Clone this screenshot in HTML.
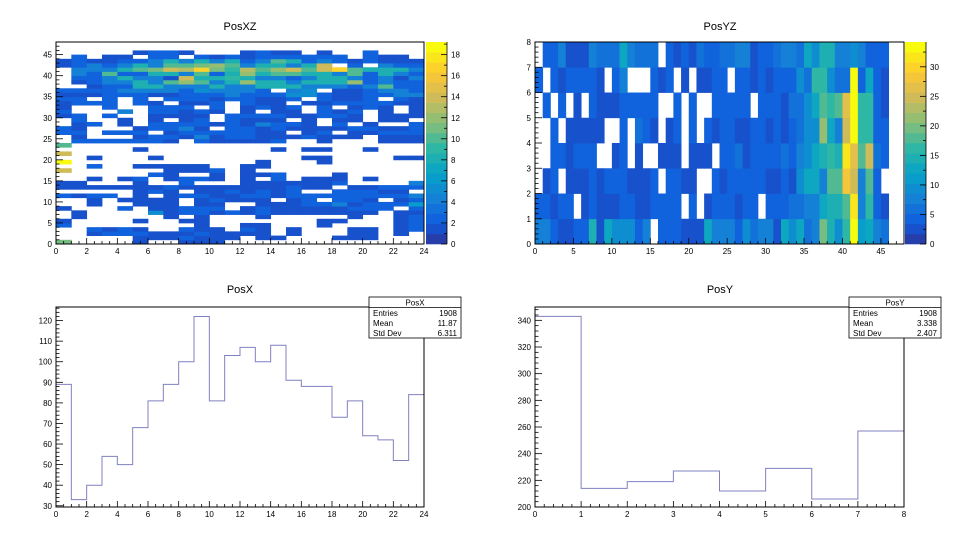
<!DOCTYPE html>
<html><head><meta charset="utf-8">
<style>
html,body{margin:0;padding:0;background:#fff;}
svg{display:block;font-family:"Liberation Sans",Arial,sans-serif;}
</style></head>
<body>
<svg id="cv" width="960" height="540" viewBox="0 0 960 540" xmlns="http://www.w3.org/2000/svg"></svg>
<script>
// ---------- data ----------
const posxCounts=[89,33,40,54,50,68,81,89,100,122,81,103,107,100,108,91,88,88,73,81,64,62,52,84];
const posyCounts=[343,214,219,227,212,229,206,257];
const posxStats=["1908","11.87","6.311"];
const posyStats=["1908","3.338","2.407"];
const xzCounts=[
[11,0,0,0,0,1,0,0,1,1,1,0,0,0,0,0,0,0,0,0,0,0,0,0],
[0,0,0,0,0,1,1,1,2,1,1,1,0,1,1,0,0,0,1,1,1,0,0,0],
[0,0,1,2,2,2,1,1,1,2,1,1,1,1,0,1,0,0,0,1,1,0,1,0],
[0,0,2,1,2,1,0,0,2,1,1,0,2,1,0,1,0,0,0,1,1,0,1,2],
[2,0,0,0,0,0,0,0,0,1,0,0,1,1,0,0,0,1,0,0,0,0,1,2],
[1,0,0,0,0,1,0,0,1,1,0,0,0,0,0,0,0,1,1,0,0,0,1,2],
[0,1,0,0,0,0,0,1,0,1,0,0,0,1,0,0,0,0,0,1,0,0,1,2],
[0,1,0,0,0,0,5,1,2,2,1,2,1,2,1,1,1,1,1,1,1,0,1,1],
[1,0,0,0,2,0,1,1,2,2,2,0,1,2,1,1,1,1,1,2,2,2,0,2],
[0,0,1,0,0,1,1,1,0,1,1,0,0,1,1,1,2,2,4,1,2,2,2,6],
[0,0,1,0,1,1,1,1,0,1,2,1,1,1,0,1,2,0,2,2,1,0,1,2],
[2,1,2,2,0,1,0,1,2,2,1,1,2,2,1,2,2,2,2,2,2,2,2,4],
[0,0,0,0,0,1,2,1,0,1,1,2,1,2,1,2,0,0,2,2,2,1,1,0],
[1,1,1,1,1,1,1,2,1,1,1,1,1,1,1,2,1,1,0,1,1,2,2,2],
[1,1,0,0,0,1,0,0,2,0,0,0,1,1,1,1,1,1,2,0,0,0,0,4],
[0,0,1,0,1,2,0,1,2,2,1,0,1,0,2,0,1,1,1,0,1,0,0,0],
[0,0,0,0,0,0,2,1,0,0,1,0,1,1,2,0,0,0,1,0,0,0,0,0],
[14,0,0,0,0,0,0,1,1,1,2,0,1,0,0,0,0,0,0,0,0,0,0,0],
[0,0,2,0,0,1,1,1,1,1,0,0,1,1,0,0,0,0,0,0,0,0,0,0],
[19,0,0,0,0,0,0,0,0,0,0,0,0,1,0,0,0,1,0,0,0,0,0,0],
[0,0,1,0,0,0,1,0,0,0,0,0,0,0,0,0,1,1,0,0,0,0,1,1],
[14,0,0,0,0,0,0,0,0,0,0,0,0,0,0,0,0,0,0,0,0,0,0,0],
[0,0,0,0,0,1,0,0,0,0,0,0,0,0,1,0,1,1,0,0,1,0,0,0],
[10,0,0,0,0,0,0,0,0,0,0,0,0,0,0,0,0,0,0,0,0,0,0,0],
[0,2,2,2,2,2,2,1,0,2,1,1,1,1,2,0,0,1,0,0,0,1,1,1],
[0,1,0,0,0,1,2,2,1,4,1,2,2,1,1,1,2,1,1,1,0,1,1,1],
[2,2,0,2,2,2,0,1,2,2,2,2,2,1,1,0,1,2,0,1,1,2,2,2],
[2,1,0,0,0,1,2,2,4,1,0,2,2,1,2,1,1,1,1,2,2,1,1,2],
[0,1,2,0,1,0,2,2,2,2,1,2,1,4,2,2,1,0,2,0,1,0,0,2],
[0,2,0,0,1,0,1,0,1,2,0,2,1,1,1,0,1,0,1,1,0,1,1,0],
[1,2,0,2,0,0,1,1,1,1,0,2,2,2,2,1,1,2,2,1,0,1,1,1],
[2,0,0,0,4,0,2,2,1,2,1,0,1,0,1,1,0,2,1,2,0,1,0,1],
[1,0,0,2,0,0,2,2,2,0,2,0,1,2,1,2,0,2,0,1,2,1,0,1],
[1,2,2,2,0,2,1,0,1,1,2,0,2,1,1,0,1,1,2,2,2,2,1,1],
[2,2,0,2,0,2,0,2,2,2,1,2,2,1,1,2,0,2,1,1,2,0,2,1],
[1,1,1,2,2,2,1,1,2,2,2,4,2,2,2,5,5,2,1,1,2,2,4,4],
[2,2,2,2,4,4,4,4,2,5,4,4,4,2,0,4,5,0,1,1,2,4,4,2],
[0,0,1,2,2,8,8,4,4,4,8,4,4,8,8,8,4,4,4,2,4,10,2,2],
[0,1,2,4,4,8,4,10,12,10,4,8,12,8,8,4,8,8,8,12,2,4,2,2],
[0,2,2,4,8,4,4,1,14,8,8,9,8,4,4,2,4,8,8,4,2,4,1,4],
[0,4,2,10,2,2,8,8,4,10,2,8,12,8,10,10,8,8,4,10,2,8,4,2],
[0,4,4,4,8,10,11,14,13,17,11,9,13,10,12,14,10,14,17,10,8,8,8,4],
[1,2,4,2,4,8,4,10,10,11,12,10,4,8,8,4,8,14,0,2,0,4,2,2],
[1,2,1,1,2,2,4,8,4,8,4,8,2,4,10,8,2,4,2,1,2,1,1,1],
[0,2,0,1,1,0,2,2,0,2,1,2,1,2,2,2,2,2,2,0,2,1,1,0],
[0,0,0,0,0,1,2,2,1,0,0,0,1,2,1,1,0,1,0,0,2,0,0,0],
[0,0,0,0,0,0,0,0,0,0,0,0,0,0,0,0,0,0,0,0,0,0,0,0],
[0,0,0,0,0,0,0,0,0,0,0,0,0,0,0,0,0,0,0,0,0,0,0,0]];
const yzCounts=[
[8,7,5,2,2,5,5,14,2,12,9,9,9,4,8,0,5,5,5,2,2,2,12,8,8,8,4,10,6,8,8,2,12,10,12,6,8,20,14,10,17,34,11,12,8,6],
[4,4,2,4,4,0,2,4,2,2,2,4,4,2,2,4,4,4,4,0,4,0,2,4,4,4,2,4,4,0,4,4,4,6,6,8,8,12,14,14,18,32,8,17,4,2],
[0,2,4,0,2,2,2,4,2,4,4,4,2,2,2,4,0,4,4,2,2,0,0,4,2,4,4,4,4,4,2,2,4,2,10,12,12,8,18,18,29,24,8,18,4,0],
[0,0,4,4,2,4,4,4,0,0,2,4,0,2,0,0,2,2,2,0,2,2,2,0,4,4,6,2,4,4,4,4,6,4,8,10,12,14,16,14,32,26,18,25,6,4],
[0,0,4,0,2,2,2,2,2,0,0,4,0,6,4,2,0,2,4,0,4,0,4,2,4,4,2,2,4,4,2,4,2,4,6,10,10,22,12,8,24,33,17,17,4,4],
[0,4,0,4,0,2,0,4,2,2,2,4,4,4,4,4,0,0,4,0,4,0,0,4,4,4,4,4,0,4,4,4,2,6,6,10,12,18,16,18,26,33,16,16,4,2],
[4,0,4,2,4,4,4,5,2,0,4,7,0,0,0,4,2,4,0,2,0,2,2,4,4,0,4,4,2,4,2,4,4,4,10,6,16,16,10,6,6,33,4,12,4,2],
[0,4,4,7,2,2,2,7,6,6,6,12,7,6,6,6,0,4,2,4,2,6,4,4,6,6,7,7,2,4,4,6,7,7,6,12,10,14,14,8,8,10,7,4,4,4]];

// ---------- helpers ----------
const NS="http://www.w3.org/2000/svg";
const cv=document.getElementById('cv');
function mk(tag,attrs,parent){const e=document.createElementNS(NS,tag);for(const k in attrs)e.setAttribute(k,attrs[k]);(parent||cv).appendChild(e);return e;}
function txt(s,x,y,size,anchor,parent){const t=mk('text',{x:x,y:y,'font-size':size,'text-anchor':anchor||'middle',fill:'#000'},parent);t.textContent=s;return t;}
const birdR=[0.2082,0.0592,0.0780,0.0232,0.1802,0.5301,0.8186,0.9956,0.9764];
const birdG=[0.1664,0.3599,0.5041,0.6419,0.7178,0.7492,0.7328,0.7862,0.9832];
const birdB=[0.5293,0.8684,0.8385,0.7914,0.6425,0.4662,0.3499,0.1968,0.0539];
function bird(t){t=Math.max(0,Math.min(1,t));const f=t*8;let i=Math.floor(f);if(i>=8)i=7;const u=f-i;
 const c=a=>Math.round(255*(a[i]+(a[i+1]-a[i])*u));return 'rgb('+c(birdR)+','+c(birdG)+','+c(birdB)+')';}
function bandColor(l){return bird((l+0.99)/20);}
function levelColor(v,zmax){let l=Math.floor(v/zmax*20);if(l>19)l=19;return bandColor(l);}
function scale(d0,d1,r0,r1){return v=>r0+(v-d0)/(d1-d0)*(r1-r0);}

function axes(g,F,xr,yr,xLab,xMinor,yLab,yMinor){
 const X=scale(xr[0],xr[1],F.x0,F.x1),Y=scale(yr[0],yr[1],F.y1,F.y0);
 const xa=mk('g',{},g);
 mk('line',{x1:F.x0,y1:F.y1,x2:F.x1,y2:F.y1,stroke:'#000','stroke-width':1},xa);
 for(let v=xr[0];v<=xr[1]+1e-9;v+=xMinor){const major=Math.abs(v/xLab-Math.round(v/xLab))<1e-6;const x=X(v);
  mk('line',{x1:x,y1:F.y1,x2:x,y2:F.y1-(major?6:3),stroke:'#000','stroke-width':0.8},xa);
  if(major){txt(String(Math.round(v)),x,F.y1+10,8,'middle',xa);}}
 const ya=mk('g',{},g);
 mk('line',{x1:F.x0,y1:F.y0,x2:F.x0,y2:F.y1,stroke:'#000','stroke-width':1},ya);
 const start=Math.ceil(yr[0]/yMinor-1e-9)*yMinor;
 for(let v=start;v<=yr[1]+1e-9;v+=yMinor){const major=Math.abs(v/yLab-Math.round(v/yLab))<1e-6;const y=Y(v);
  mk('line',{x1:F.x0,y1:y,x2:F.x0+(major?7:3.5),y2:y,stroke:'#000','stroke-width':0.8},ya);
  if(major){txt(String(Math.round(v)),F.x0-4,y+3,8,'end',ya);}}
 return {X,Y};
}
function frame(g,F){mk('rect',{x:F.x0,y:F.y0,width:F.x1-F.x0,height:F.y1-F.y0,fill:'none',stroke:'#000','stroke-width':1},g);}

function palette(g,P,zmax,step){
 const Z=scale(0,zmax,P.y1,P.y0);
 for(let i=0;i<20;i++){const r=mk('rect',{x:P.x0,y:Z((i+1)*zmax/20),width:P.x1-P.x0,height:Z(i*zmax/20)-Z((i+1)*zmax/20)+0.3,fill:bandColor(i)},g);
  }
 for(let v=0;v<=zmax+1e-9;v+=step/2){const major=Math.abs(v/step-Math.round(v/step))<1e-6;const y=Z(v);
  mk('line',{x1:P.x1,y1:y,x2:P.x1-(major?6:3),y2:y,stroke:'#000','stroke-width':0.8},g);
  if(major)txt(String(Math.round(v)),P.x1+4,y+3,8,'start',g);}
 mk('line',{x1:P.x1,y1:P.y0,x2:P.x1,y2:P.y1,stroke:'#000','stroke-width':0.8},g);
}
function heat(g,data,xr,yr,F,zmax,name){
 const X=scale(xr[0],xr[1],F.x0,F.x1),Y=scale(yr[0],yr[1],F.y1,F.y0);
 for(let r=0;r<data.length;r++)for(let c=0;c<data[r].length;c++){const v=data[r][c];if(v<=0)continue;
  const e=mk('rect',{x:X(c),y:Y(r+1),width:X(c+1)-X(c)+0.4,height:Y(r)-Y(r+1)+0.4,fill:levelColor(v,zmax)},g);
  
  }
}
function hist(g,data,xr,yr,F,name){
 const X=scale(xr[0],xr[1],F.x0,F.x1),Y=scale(yr[0],yr[1],F.y1,F.y0);
 let d='M'+X(0)+','+F.y1+' V'+Y(data[0]);
 for(let i=0;i<data.length;i++){d+=' H'+X(i+1);if(i+1<data.length)d+=' V'+Y(data[i+1]);}
 const p=mk('path',{d:d,fill:'none',stroke:'#8080c0','stroke-width':1},g);
 
}
function stats(g,B,title,vals){
 mk('rect',{x:B.x,y:B.y,width:92,height:41,fill:'#fff',stroke:'#000','stroke-width':0.8},g);
 mk('line',{x1:B.x,y1:B.y+10.5,x2:B.x+92,y2:B.y+10.5,stroke:'#000','stroke-width':0.8},g);
 txt(title,B.x+46,B.y+8.5,8,'middle',g);
 const labs=["Entries","Mean","Std Dev"];
 for(let i=0;i<3;i++){txt(labs[i],B.x+4,B.y+19+i*10,8,'start',g);txt(vals[i],B.x+88,B.y+19+i*10,8,'end',g);}
}
function pad(name){const g=mk('g',{});return g;}

// ---------- PosXZ ----------
{const g=pad('posxz-pad');const F={x0:56,x1:424,y0:42,y1:244};
 txt('PosXZ',240,30,11,'middle',g);
 heat(g,xzCounts,[0,24],[0,48],F,19.2,'posxz');
 axes(g,F,[0,24],[0,48],2,0.5,5,1);frame(g,F);
 const pg=mk('g',{},g);
 palette(pg,{x0:426,x1:447,y0:42,y1:244},19.2,2);}
// ---------- PosYZ ----------
{const g=pad('posyz-pad');const F={x0:535,x1:904,y0:42,y1:244};
 txt('PosYZ',720,30,11,'middle',g);
 heat(g,yzCounts,[0,48],[0,8],F,34.2,'posyz');
 axes(g,F,[0,48],[0,8],5,1,1,0.2);frame(g,F);
 const pg=mk('g',{},g);
 palette(pg,{x0:905,x1:926,y0:42,y1:244},34.2,5);}
// ---------- PosX ----------
{const g=pad('posx-pad');const F={x0:56,x1:424,y0:307,y1:507};
 txt('PosX',240,293,11,'middle',g);
 hist(g,posxCounts,[0,24],[29.4,126.6],F,'posx');
 axes(g,F,[0,24],[29.4,126.6],2,0.5,10,2);frame(g,F);
 const sg=mk('g',{},g);
 stats(sg,{x:369,y:297},'PosX',posxStats);}
// ---------- PosY ----------
{const g=pad('posy-pad');const F={x0:535,x1:904,y0:307,y1:507};
 txt('PosY',720,293,11,'middle',g);
 hist(g,posyCounts,[0,8],[200,350],F,'posy');
 axes(g,F,[0,8],[200,350],1,0.2,20,4);frame(g,F);
 const sg=mk('g',{},g);
 stats(sg,{x:849,y:297},'PosY',posyStats);}
</script>
</body></html>
